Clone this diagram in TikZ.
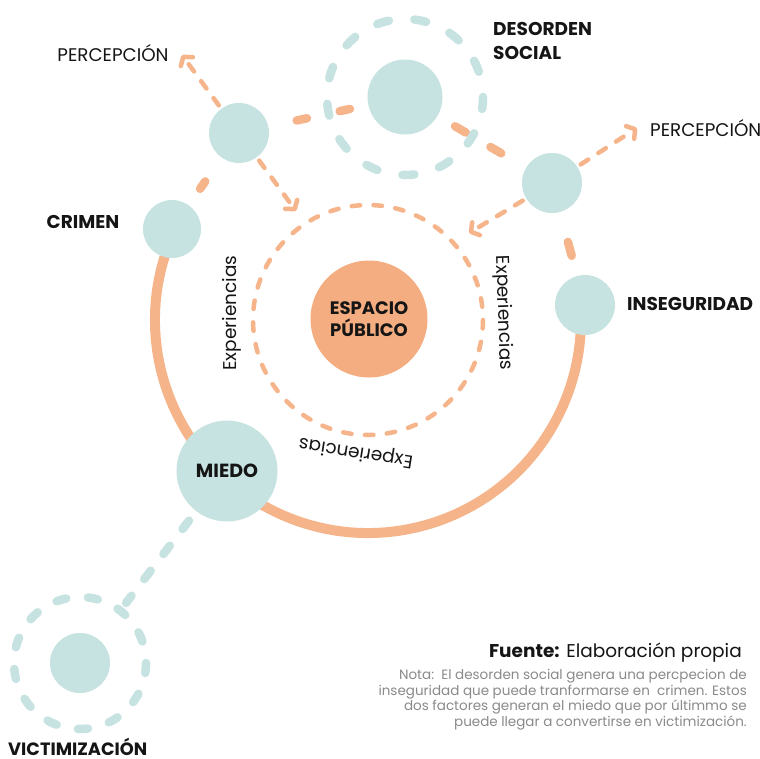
\documentclass[tikz,border=0pt]{standalone}
\usepackage{fontspec}
\setmainfont{Poppins}
\usetikzlibrary{arrows.meta}
\definecolor{tealc}{HTML}{C6E3E2}
\definecolor{orng}{HTML}{F6B48A}
\definecolor{orngd}{HTML}{F4AD80}
\definecolor{txt}{HTML}{151515}
\definecolor{gtxt}{HTML}{8A8A8A}
\pgfdeclarelayer{bg}
\pgfsetlayers{bg,main}
\begin{document}
\begin{tikzpicture}[x=1pt,y=-1pt,
  tcirc/.style={circle, fill=tealc, draw=none, minimum size=#1, inner sep=0pt},
  lab/.style={text=txt, font=\fontsize{18.3}{20}\selectfont, inner sep=0pt},
  blab/.style={text=txt, font=\bfseries\fontsize{18.5}{24}\selectfont, inner sep=0pt},
  exper/.style={text=txt, font=\fontsize{18.5}{20}\selectfont, inner sep=0pt},
  ringline/.style={draw=orng, line width=10pt},
  odash/.style={draw=orng, line width=8.5pt, line cap=round},
  arr/.style={draw=orng, line width=4.5pt, line cap=round, dash pattern=on 9pt off 12pt,
    -{Straight Barb[round,length=6pt,width=15pt]}},
  tdash/.style={draw=tealc, line width=8.5pt, line cap=round}
]
\useasboundingbox (0,0) rectangle (760,758);

% nodes
\coordinate (c) at (368,320);
\node[circle, fill=orngd, minimum size=117pt, inner sep=0pt, align=center, text=txt,
  font=\bfseries\fontsize{18}{22}\selectfont] (esp) at (369,319) {ESPACIO\\PÚBLICO};
\node[tcirc=58pt] (crimen) at (172,229) {};
\node[tcirc=60pt] (tl) at (239,133) {};
\node[tcirc=75pt] (des) at (405,97) {};
\node[tcirc=60pt] (rc) at (552,183) {};
\node[tcirc=60pt] (inseg) at (585,305) {};
\node[tcirc=101pt, text=txt, font=\bfseries\fontsize{19}{20}\selectfont] (miedo) at (227,471) {MIEDO};
\node[tcirc=60pt] (vic) at (80,663) {};

\coordinate (p1) at (182,55);
\coordinate (a1) at (296,211);
\coordinate (p2) at (637,128);
\coordinate (a2) at (469,233);

\begin{pgfonlayer}{bg}
  \fill[white] (0,0) rectangle (760,758);
  % main solid ring
  \draw[ringline] (c) ++(205:213) arc[start angle=205, end angle=-4, radius=213];
  % inner dashed circle
  \draw[draw=orng, line width=4.5pt, line cap=round, dash pattern=on 8.5pt off 13.4pt]
    (c) circle[radius=115];
  % thick orange dashes along the top
  \draw[odash, shorten <=49pt, shorten >=59pt] (crimen.center) -- (tl.center);
  \draw[odash, dash pattern=on 10.5pt off 33.5pt, shorten <=59pt, shorten >=56pt] (tl.center) -- (des.center);
  \draw[odash, dash pattern=on 12.5pt off 28.5pt, shorten <=58pt, shorten >=57pt] (des.center) -- (rc.center);
  \draw[odash, shorten <=61pt, shorten >=51pt] (rc.center) -- (inseg.center);
  % arrows
  \draw[arr, shorten <=4pt] (tl) -- (p1);
  \draw[arr, shorten <=4pt] (tl) -- (a1);
  \draw[arr, shorten <=4pt] (rc) -- (p2);
  \draw[arr, shorten <=4pt] (rc) -- (a2);
  % teal dashes
  \draw[tdash, dash pattern=on 10.5pt off 21pt, shorten <=62.6pt, shorten >=75.8pt] (miedo.center) -- (vic.center);
\end{pgfonlayer}
\draw[tdash, dash pattern=on 12pt off 25.7pt] (des.center) circle[radius=78];
\draw[tdash, dash pattern=on 10pt off 21.9pt] (vic.center) circle[radius=66];

% labels
\node[lab] (lp1) at (113,53) {PERCEPCIÓN};
\node[lab, anchor=west] (lp2) at (650,128) {PERCEPCIÓN};
\node[blab, anchor=west, align=left] (ldes) at (493,41) {DESORDEN\\SOCIAL};
\node[blab] (lcrim) at (83,221.5) {CRIMEN};
\node[blab, anchor=west] (lins) at (627,304) {INSEGURIDAD};
\node[text=txt, inner sep=0pt, font=\bfseries\fontsize{17.8}{20}\selectfont, anchor=west] (lvic) at (8,747) {VICTIMIZACIÓN};

\node[exper, rotate=90] (e1) at (232,313) {Experiencias};
\node[exper, rotate=-88] (e2) at (503,313) {Experiencias};
\node[exper, rotate=171] (e3) at (356,452) {Experiencias};

\node[anchor=east, text=txt, inner sep=0pt, font=\fontsize{18.5}{20}\selectfont] (fu) at (742,653)
  {\textbf{Fuente:} Elaboración propia};
\node[anchor=north east, text=gtxt, inner sep=0pt, align=right, font=\fontsize{13.5}{15.6}\selectfont] (nota) at (747,669)
  {Nota:\ \ El desorden social genera una percpecion de\\
   inseguridad que puede tranformarse en\ \ crimen. Estos\\
   dos factores generan el miedo que por últimmo se\\
   puede llegar a convertirse en victimización.};
\end{tikzpicture}
\end{document}
